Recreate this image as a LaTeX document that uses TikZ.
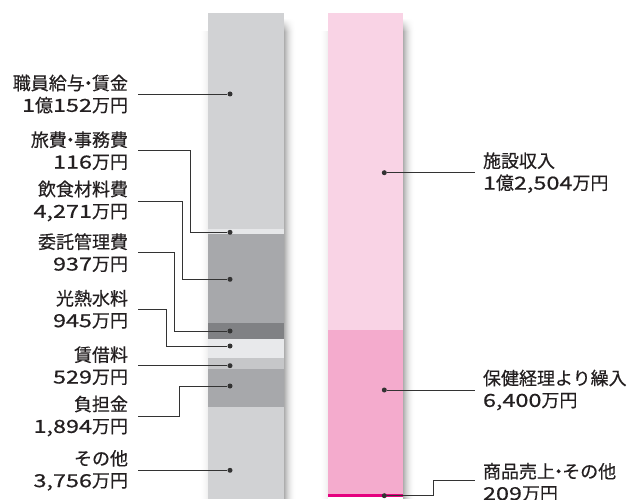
\documentclass[tikz,border=0pt]{standalone}
\usepackage{fontspec}
\setmainfont[FakeBold=0.5,AutoFakeBold=0]{Noto Sans CJK JP}
\newfontfamily\numf[FakeStretch=1.3,FakeBold=0.6]{Noto Sans CJK JP}
\newcommand\nm[1]{{\numf #1}}
\newcommand\md{\kern-.3em・\kern-.3em}
\definecolor{gA}{HTML}{D1D2D4}
\definecolor{gE}{HTML}{E6E7E9}
\definecolor{gM}{HTML}{A7A8AB}
\definecolor{gD}{HTML}{808184}
\definecolor{gL}{HTML}{E8E9EB}
\definecolor{gC}{HTML}{C6C7C9}
\definecolor{pA}{HTML}{F9D3E5}
\definecolor{pB}{HTML}{F4ABCD}
\definecolor{pC}{HTML}{E5007F}
\definecolor{txt}{HTML}{231F20}
\definecolor{ln}{HTML}{333333}
\begin{document}
\begin{tikzpicture}[x=1pt,y=1pt,
  lab/.style={font=\fontsize{18}{22}\selectfont, text=txt, inner sep=0pt},
  labl/.style={lab, align=right, anchor=east, outer xsep=10pt},
  labr/.style={lab, align=left, anchor=west, outer xsep=8pt},
  dot/.style={circle, fill=ln, minimum size=5pt, inner sep=0pt},
  con/.style={draw=ln, line width=0.8pt}]
\useasboundingbox (0,0) rectangle (643,499);
\clip (0,0) rectangle (643,499);
% shadows
\foreach \bx in {284,403.3}{
  \foreach \i in {0,...,11}{
    \pgfmathsetmacro\k{32*(1-\i/12)^2}
    \fill[black!\k] (\bx+\i,0) rectangle (\bx+\i+1.05,468);
    \shade[bottom color=black!\k, top color=white] (\bx+\i,467.5) rectangle (\bx+\i+1.05,481);
  }
}
\foreach \bx in {208,328.3}{
  \foreach \i in {1,...,8}{
    \pgfmathsetmacro\k{7*(1-\i/9)^2}
    \fill[black!\k] (\bx-\i,0) rectangle (\bx-\i+1.05,468);
  }
}
% left bar
\fill[gA] (208,270) rectangle (284,486);
\fill[gE] (208,265) rectangle (284,270);
\fill[gM] (208,176) rectangle (284,265);
\fill[gD] (208,160) rectangle (284,176);
\fill[gL] (208,141) rectangle (284,160);
\fill[gC] (208,130) rectangle (284,141);
\fill[gM] (208,92) rectangle (284,130);
\fill[gA] (208,0) rectangle (284,92);
% right bar
\fill[pA] (328.3,169) rectangle (403.3,486);
\fill[pB] (328.3,5) rectangle (403.3,169);
\fill[pC] (328.3,2) rectangle (403.3,5);
% left labels
\node[dot] (d1) at (230,405) {};
\node[dot] (d2) at (230,266.7) {};
\node[dot] (d3) at (230,219.7) {};
\node[dot] (d4) at (230,168) {};
\node[dot] (d5) at (230,153) {};
\node[dot] (d6) at (230,133.3) {};
\node[dot] (d7) at (230,113) {};
\node[dot] (d8) at (230,28.7) {};
\node[labl] (l1) at (138,405) {職員給与\md 賃金\\\nm{1}億\nm{152}万円};
\node[labl] (l2) at (138,348.3) {旅費\md 事務費\\\nm{116}万円};
\node[labl] (l3) at (138,298) {飲食材料費\\\nm{4,271}万円};
\node[labl] (l4) at (138,246.3) {委託管理費\\\nm{937}万円};
\node[labl] (l5) at (138,189.7) {光熱水料\\\nm{945}万円};
\node[labl] (l6) at (138,133.3) {賃借料\\\nm{529}万円};
\node[labl] (l7) at (138,83) {負担金\\\nm{1,894}万円};
\node[labl] (l8) at (138,28.7) {その他\\\nm{3,756}万円};
\draw[con] (l1.east) -- (d1);
\draw[con] (l2.east) -- (190.7,348.3) |- (d2);
\draw[con] (l3.east) -- (182.3,298) |- (d3);
\draw[con] (l4.east) -- (174.3,246.3) |- (d4);
\draw[con] (l5.east) -- (166,189.7) |- (d5);
\draw[con] (l6.east) -- (d6);
\draw[con] (l7.east) -- (179,83) |- (d7);
\draw[con] (l8.east) -- (d8);
% right labels
\node[dot] (e1) at (384.3,326.3) {};
\node[dot] (e2) at (384.3,109) {};
\node[dot] (e3) at (384.3,3.3) {};
\node[labr] (r1) at (475,326.3) {施設収入\\\nm{1}億\nm{2,504}万円};
\node[labr] (r2) at (475,109) {保健経理より繰入\\\nm{6,400}万円};
\node[labr] (r3) at (475,16.7) {商品売上\md その他\\\nm{209}万円};
\draw[con] (e1) -- (r1.west);
\draw[con] (e2) -- (r2.west);
\draw[con] (e3) -- (433.3,3.3) |- ([yshift=2.3pt]r3.west);
\end{tikzpicture}
\end{document}
